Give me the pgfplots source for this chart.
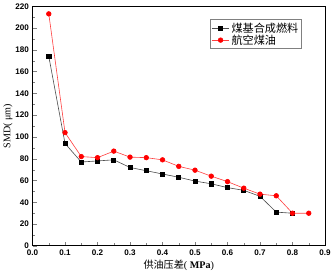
\documentclass[border=0pt]{standalone}
\usepackage{pgfplots}
\pgfplotsset{compat=1.18}
\usepackage{fontspec}
\setmainfont{Liberation Serif}
\newfontfamily\cjk{Noto Sans CJK SC}
\newfontfamily\tickfont{Liberation Sans}
\begin{document}
\begin{tikzpicture}
\begin{axis}[
  scale only axis,
  width=288bp, height=236bp,
  xmin=0, xmax=0.9, ymin=0, ymax=220,
  xtick={0,0.1,...,0.9},
  ytick={0,20,...,220},
  minor x tick num=1,
  minor y tick num=1,
  tick align=inside,
  xtick pos=bottom, ytick pos=left,
  major tick length=4bp, minor tick length=2.5bp,
  /pgf/number format/assume math mode=true,
  /pgf/number format/fixed,
  /pgf/number format/precision=1,
  xticklabel style={font=\tickfont\bfseries\fontsize{8}{9}\selectfont, /pgf/number format/fixed zerofill},
  yticklabel style={font=\tickfont\bfseries\fontsize{8}{9}\selectfont},
  xlabel={{\cjk 供油压差}( \textbf{MPa})},
  ylabel={SMD( μm)},
  xlabel style={font=\fontsize{10}{12}\selectfont, yshift=2pt},
  ylabel style={font=\fontsize{10}{12}\selectfont, yshift=-4pt},
  axis line style={line width=0.8pt},
  legend style={at={(0.92,0.945)}, anchor=north east, font=\cjk\fontsize{11}{12}\selectfont, draw=gray, line width=0.5pt, inner sep=1pt, row sep=-3pt},
  legend cell align=left,
]
\addplot[black!70, line width=0.6pt, mark=square*, mark size=2pt, mark options={fill=black, draw=black}] coordinates {
(0.05,174)(0.1,94)(0.15,77)(0.2,78)(0.25,79)(0.3,72)(0.35,69)(0.4,66)(0.45,63)(0.5,59.5)(0.55,57)(0.6,53.5)(0.65,51)(0.7,45.5)(0.75,31)(0.8,30)
};
\addlegendentry{煤基合成燃料}
\addplot[red!75, line width=0.6pt, mark=*, mark size=2.3pt, mark options={fill=red, draw=red}] coordinates {
(0.05,213)(0.1,104)(0.15,82)(0.2,81)(0.25,87)(0.3,81.5)(0.35,81)(0.4,79)(0.45,73)(0.5,69.5)(0.55,64)(0.6,59)(0.65,53)(0.7,47.5)(0.75,46)(0.8,30)(0.85,30)
};
\addlegendentry{航空煤油}
\end{axis}
\end{tikzpicture}
\end{document}
